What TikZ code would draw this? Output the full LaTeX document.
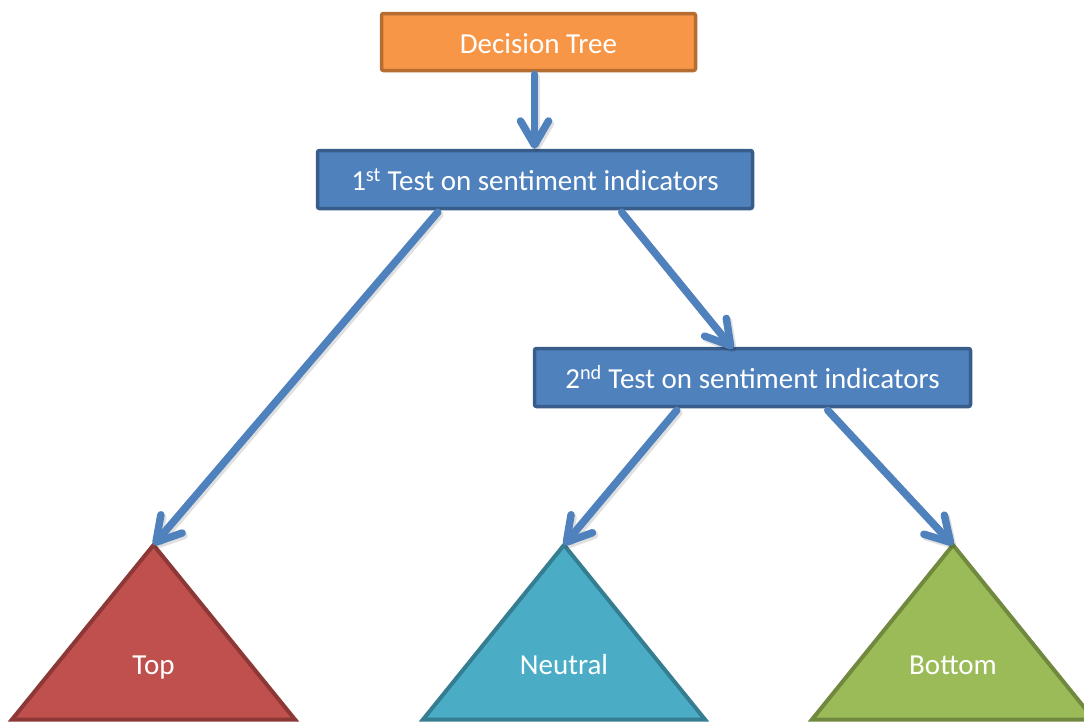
\documentclass[tikz,border=0pt]{standalone}
\usepackage{fontspec}
\setmainfont{Carlito}
\usetikzlibrary{arrows.meta}
\definecolor{orfill}{HTML}{F79646}
\definecolor{ordraw}{HTML}{B66D31}
\definecolor{blfill}{HTML}{4F81BD}
\definecolor{bldraw}{HTML}{385D8A}
\definecolor{rdfill}{HTML}{C0504D}
\definecolor{rddraw}{HTML}{8C3836}
\definecolor{aqfill}{HTML}{4BACC6}
\definecolor{aqdraw}{HTML}{357D91}
\definecolor{grfill}{HTML}{9BBB59}
\definecolor{grdraw}{HTML}{71893F}
\tikzset{
  boxstyle/.style={rectangle, rounded corners=2pt, line width=3.5pt, text=white,
    font=\fontsize{29}{34}\selectfont, inner sep=0pt, text height=22pt, text depth=0pt},
  conn/.style={draw=blfill, line width=7.5pt, line cap=round,
    -{Straight Barb[length=24pt,width=28pt,round]}},
  connshadow/.style={conn, draw=black, draw opacity=0.12, transform canvas={shift={(2pt,-2.5pt)}}},
  tri/.style={line width=4pt, line join=miter},
  trilabel/.style={text=white, font=\fontsize{29}{34}\selectfont, inner sep=0pt, anchor=base}
}
\begin{document}
\begin{tikzpicture}[x=1pt,y=-1pt]
\useasboundingbox (0,0) rectangle (1084,721);
\clip (0,0) rectangle (1084,721);
% triangles
\coordinate (topapex) at (153.5,545);
\coordinate (neuapex) at (564,545);
\coordinate (botapex) at (953,545);
\draw[tri, fill=rdfill, draw=rddraw] (topapex) -- (12,719.5) -- (295,719.5) -- cycle;
\draw[tri, fill=aqfill, draw=aqdraw] (neuapex) -- (423,719.5) -- (705,719.5) -- cycle;
\draw[tri, fill=grfill, draw=grdraw] (botapex) -- (812,719.5) -- (1094,719.5) -- cycle;
\node[trilabel] (toplbl) at (153.5,674) {Top};
\node[trilabel] (neulbl) at (564,674) {Neutral};
\node[trilabel] (botlbl) at (953,674) {Bottom};
% boxes
\node[boxstyle, fill=orfill, draw=ordraw, minimum width=314pt, minimum height=57pt]
  (dt) at (538.5,42) {Decision Tree};
\node[boxstyle, fill=blfill, draw=bldraw, minimum width=435pt, minimum height=58pt]
  (t1) at (535,179.5) {1\textsuperscript{st} Test on sentiment indicators};
\node[boxstyle, fill=blfill, draw=bldraw, minimum width=436pt, minimum height=58pt]
  (t2) at (752.5,377.5) {2\textsuperscript{nd} Test on sentiment indicators};
% connectors
\coordinate (dtout) at ([xshift=-4pt,yshift=-2pt]dt.south);
\coordinate (t1a) at ([xshift=122pt,yshift=-2pt]t1.south west);
\coordinate (t1b) at ([xshift=306pt,yshift=-2pt]t1.south west);
\coordinate (t2in) at ([xshift=-19.5pt,yshift=-2pt]t2.north);
\coordinate (t2a) at ([xshift=144pt,yshift=-2pt]t2.south west);
\coordinate (t2b) at ([xshift=295pt,yshift=-2pt]t2.south west);
\draw[connshadow] (dtout) -- (dtout |- t1.north);
\draw[connshadow] (t1a) -- (topapex);
\draw[connshadow] (t1b) -- (t2in);
\draw[connshadow] (t2a) -- (neuapex);
\draw[connshadow] (t2b) -- (botapex);
\draw[conn] (dtout) -- (dtout |- t1.north);
\draw[conn] (t1a) -- (topapex);
\draw[conn] (t1b) -- (t2in);
\draw[conn] (t2a) -- (neuapex);
\draw[conn] (t2b) -- (botapex);
\end{tikzpicture}
\end{document}
